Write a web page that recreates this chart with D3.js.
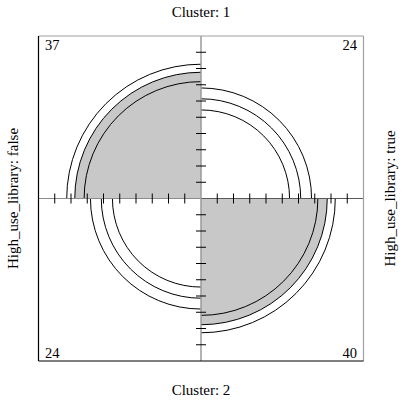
<!DOCTYPE html>
<html>
<head>
<meta charset="utf-8">
<script src="https://cdn.jsdelivr.net/npm/d3@7"></script>
<style>
  html, body { margin: 0; padding: 0; background: #fff; }
  svg { display: block; font-family: "Liberation Serif", "Times New Roman", serif; }
</style>
</head>
<body>
<svg id="chart" width="405" height="403"></svg>
<script>
// ---- data ----
const rowLabels = ["Cluster: 1", "Cluster: 2"];
const colLabels = ["High_use_library: false", "High_use_library: true"];
const counts = [[37, 24], [24, 40]];   // rows: cluster, cols: High_use_library
const confLevel = 0.95;
const tickFractions = [0.1, 0.2, 0.3, 0.4, 0.5, 0.6, 0.7, 0.8, 0.9];

// ---- layout ----
const W = 405, H = 403;
const box = { left: 38.5, right: 363.5, top: 36, bottom: 361 };
const cx = (box.left + box.right) / 2, cy = (box.top + box.bottom) / 2;
const half = (box.right - box.left) / 2;
const fillColor = "#c8c8c8";

const svg = d3.select("#chart");

// standardize table to equal margins (iterative proportional fitting)
function standardize(t) {
  let m = t.map(r => r.slice());
  for (let it = 0; it < 200; it++) {
    m = m.map(r => { const s = d3.sum(r); return r.map(v => v / s); });
    const cs = [0, 1].map(j => m[0][j] + m[1][j]);
    m = m.map(r => r.map((v, j) => v / cs[j]));
  }
  return m;
}
const std = standardize(counts);
const logOR = Math.log(counts[0][0] * counts[1][1] / (counts[0][1] * counts[1][0]));
const se = Math.sqrt(d3.sum(counts.flat().map(v => 1 / v)));
const z = 1.959964;
const orBounds = [Math.exp(logOR - z * se), Math.exp(logOR + z * se)];
function stdForOR(theta) {
  const s = Math.sqrt(theta), a = s / (1 + s);
  return [[a, 1 - a], [1 - a, a]];
}
const ringTables = orBounds.map(stdForOR);

const r = d3.scaleSqrt().domain([0, 1]).range([0, half * 0.99]);

// quadrant angles (canvas convention, 0 = 3 o'clock, clockwise)
const quad = [
  [{ a0: Math.PI, a1: 1.5 * Math.PI }, { a0: 1.5 * Math.PI, a1: 2 * Math.PI }],
  [{ a0: 0.5 * Math.PI, a1: Math.PI }, { a0: 0, a1: 0.5 * Math.PI }]
];
function arcPath(rad, q, closed) {
  const p = d3.path();
  if (closed) { p.moveTo(cx, cy); p.lineTo(cx + rad * Math.cos(q.a0), cy + rad * Math.sin(q.a0)); }
  else p.moveTo(cx + rad * Math.cos(q.a0), cy + rad * Math.sin(q.a0));
  p.arc(cx, cy, rad, q.a0, q.a1);
  if (closed) p.closePath();
  return p.toString();
}

const cells = [];
for (let i = 0; i < 2; i++) for (let j = 0; j < 2; j++)
  cells.push({ i, j, n: counts[i][j], p: std[i][j], q: quad[i][j], diag: i === j });

// fills
svg.selectAll("path.fill").data(cells).join("path")
  .attr("d", d => arcPath(r(d.p), d.q, true))
  .attr("fill", d => d.diag ? fillColor : "#fff")
  .attr("stroke", "none");

// data arcs
svg.selectAll("path.arc").data(cells).join("path")
  .attr("d", d => arcPath(r(d.p), d.q, false))
  .attr("fill", "none").attr("stroke", "#000").attr("stroke-width", 1);

// confidence rings
const rings = [];
cells.forEach(d => ringTables.forEach(t => rings.push({ q: d.q, p: t[d.i][d.j] })));
svg.selectAll("path.ring").data(rings).join("path")
  .attr("d", d => arcPath(r(d.p), d.q, false))
  .attr("fill", "none").attr("stroke", "#000").attr("stroke-width", 1);

// axes
const xs = d3.scaleLinear().domain([-1, 1]).range([box.left, box.right]);
const ys = d3.scaleLinear().domain([-1, 1]).range([box.bottom, box.top]);
svg.append("line").attr("x1", xs(-1)).attr("x2", xs(0)).attr("y1", cy).attr("y2", cy)
  .attr("stroke", "#8c8c8c").attr("stroke-width", 1.2);
svg.append("line").attr("x1", xs(0)).attr("x2", xs(1)).attr("y1", cy).attr("y2", cy)
  .attr("stroke", "#5a5a5a").attr("stroke-width", 1.2);
svg.append("line").attr("x1", cx).attr("x2", cx).attr("y1", ys(1)).attr("y2", ys(-1))
  .attr("stroke", "#9a9a9a").attr("stroke-width", 1.5);

const tv = tickFractions.flatMap(f => [-f, f]);
svg.selectAll("line.xt").data(tv).join("line")
  .attr("x1", d => xs(d)).attr("x2", d => xs(d))
  .attr("y1", cy - 5).attr("y2", cy + 5)
  .attr("stroke", "#000").attr("stroke-width", 1);
svg.selectAll("line.yt").data(tv).join("line")
  .attr("y1", d => ys(d)).attr("y2", d => ys(d))
  .attr("x1", cx - 5).attr("x2", cx + 5)
  .attr("stroke", "#000").attr("stroke-width", 1);

// frame
svg.append("line").attr("x1", box.left).attr("x2", box.right).attr("y1", box.top).attr("y2", box.top)
  .attr("stroke", "#a0a0a0").attr("stroke-width", 1.2);
svg.append("line").attr("x1", box.right).attr("x2", box.right).attr("y1", box.top).attr("y2", box.bottom)
  .attr("stroke", "#a0a0a0").attr("stroke-width", 1.2);
svg.append("line").attr("x1", box.left).attr("x2", box.left).attr("y1", box.top).attr("y2", box.bottom)
  .attr("stroke", "#000").attr("stroke-width", 1.2);
svg.append("line").attr("x1", box.left).attr("x2", box.right).attr("y1", box.bottom).attr("y2", box.bottom)
  .attr("stroke", "#000").attr("stroke-width", 1.2);

// counts in corners
svg.selectAll("text.count").data(cells).join("text")
  .attr("x", d => d.j === 0 ? box.left + 6.5 : box.right - 6.5)
  .attr("y", d => d.i === 0 ? box.top + 14 : box.bottom - 3)
  .attr("text-anchor", d => d.j === 0 ? "start" : "end")
  .attr("font-size", 14.5).attr("fill", "#000")
  .text(d => d.n);

// labels
svg.append("text").attr("x", cx).attr("y", 16.5).attr("text-anchor", "middle")
  .attr("font-size", 15).text(rowLabels[0]);
svg.append("text").attr("x", cx).attr("y", 395).attr("text-anchor", "middle")
  .attr("font-size", 15).text(rowLabels[1]);
svg.append("text").attr("transform", `translate(17.5,${cy}) rotate(-90)`)
  .attr("text-anchor", "middle").attr("font-size", 15).text(colLabels[0]);
svg.append("text").attr("transform", `translate(395,${cy}) rotate(-90)`)
  .attr("text-anchor", "middle").attr("font-size", 15).text(colLabels[1]);
</script>
</body>
</html>
